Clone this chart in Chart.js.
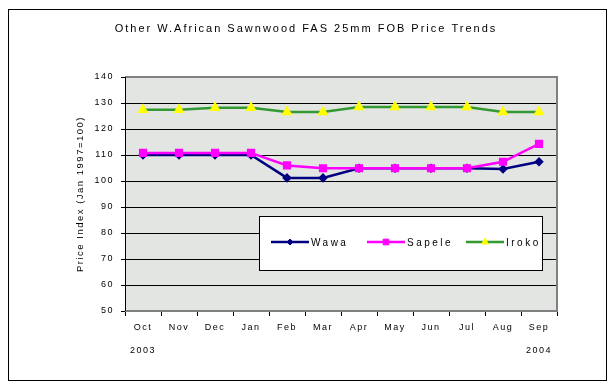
<!DOCTYPE html>
<html>
<head>
<meta charset="utf-8">
<script src="https://cdn.jsdelivr.net/npm/chart.js@4"></script>
<style>
  html, body { margin: 0; padding: 0; background: #fff; }
  #wrap { position: relative; width: 612px; height: 390px; }
  #frame { position: absolute; left: 8px; top: 9px; width: 597px; height: 370px; border: 1px solid #000; pointer-events: none; }
</style>
</head>
<body>
<div id="wrap">
  <canvas id="chart" width="612" height="390"></canvas>
  <div id="frame"></div>
</div>
<script>
// Chart data
const chartTitle = 'Other W.African Sawnwood FAS 25mm FOB Price Trends';
const months = ['Oct', 'Nov', 'Dec', 'Jan', 'Feb', 'Mar', 'Apr', 'May', 'Jun', 'Jul', 'Aug', 'Sep'];
const years = ['2003', '', '', '', '', '', '', '', '', '', '', '2004'];
const wawa = [110, 110, 110, 110, 101.2, 101.2, 104.9, 104.9, 104.9, 104.9, 104.6, 107.4];
const sapele = [110.8, 110.8, 110.8, 110.8, 106, 104.9, 104.9, 104.9, 104.9, 104.9, 107.4, 114.3];
const iroko = [127.4, 127.4, 128.2, 128.2, 126.5, 126.5, 128.5, 128.5, 128.5, 128.5, 126.5, 126.5];

// Plot background, border, title and legend box
const decorations = {
    id: 'decorations',
    beforeUpdate(chart) {
        chart.ctx.letterSpacing = '1.5px';
    },
    beforeDraw(chart) {
        const { ctx, chartArea: a } = chart;
        ctx.letterSpacing = '1.5px';
        ctx.save();
        ctx.fillStyle = '#e3e5e2';
        ctx.fillRect(a.left, a.top, a.right - a.left, a.bottom - a.top);
        ctx.restore();
    },
    beforeDatasetsDraw(chart) {
        const { ctx, chartArea: a } = chart;
        ctx.save();
        ctx.strokeStyle = '#808080';
        ctx.lineWidth = 2;
        ctx.beginPath();
        ctx.moveTo(a.left, a.top);
        ctx.lineTo(a.right, a.top);
        ctx.lineTo(a.right, a.bottom);
        ctx.lineTo(a.left, a.bottom);
        ctx.stroke();
        ctx.strokeStyle = '#000';
        ctx.lineWidth = 1;
        ctx.beginPath();
        ctx.moveTo(a.left + 0.5, a.top);
        ctx.lineTo(a.left + 0.5, a.bottom);
        ctx.stroke();
        ctx.restore();
    },
    afterDraw(chart) {
        const ctx = chart.ctx;
        ctx.save();
        ctx.letterSpacing = '2px';
        ctx.fillStyle = '#000';
        ctx.font = '11px "Liberation Sans", Arial, sans-serif';
        ctx.textAlign = 'center';
        ctx.textBaseline = 'middle';
        ctx.fillText(chartTitle, 306, 29);

        // legend
        ctx.fillStyle = '#fff';
        ctx.fillRect(259.5, 216.5, 283, 54);
        ctx.strokeStyle = '#000';
        ctx.lineWidth = 1;
        ctx.strokeRect(259.5, 216.5, 283, 54);
        const xs = [271, 367, 466];
        const y = 242;
        ctx.font = '10px "Liberation Sans", Arial, sans-serif';
        ctx.textAlign = 'left';
        ctx.letterSpacing = '2.5px';
        chart.data.datasets.forEach((ds, i) => {
            const x = xs[i];
            ctx.strokeStyle = ds.borderColor;
            ctx.lineWidth = 2.5;
            ctx.beginPath();
            ctx.moveTo(x, y);
            ctx.lineTo(x + 38, y);
            ctx.stroke();
            ctx.fillStyle = ds.pointBackgroundColor;
            ctx.strokeStyle = ds.pointBorderColor;
            ctx.lineWidth = 1;
            Chart.helpers.drawPoint(ctx, {
                pointStyle: ds.pointStyle,
                radius: ds.pointRadius,
                borderWidth: 1
            }, x + 19, y);
            ctx.fillStyle = '#000';
            ctx.fillText(ds.label, x + 40, y + 1);
        });
        ctx.restore();
    }
};

const ctx = document.getElementById('chart').getContext('2d');
new Chart(ctx, {
    type: 'line',
    data: {
        labels: months,
        datasets: [{
            label: 'Wawa',
            data: wawa,
            borderColor: '#000080',
            backgroundColor: '#000080',
            pointBackgroundColor: '#000080',
            pointBorderColor: '#000080',
            pointStyle: 'rectRot',
            pointRadius: 3,
            borderWidth: 2.5,
            order: 1
        }, {
            label: 'Sapele',
            data: sapele,
            borderColor: '#ff00ff',
            backgroundColor: '#ff00ff',
            pointBackgroundColor: '#ff00ff',
            pointBorderColor: '#ff00ff',
            pointStyle: 'rect',
            pointRadius: 4,
            borderWidth: 2.5,
            order: 0
        }, {
            label: 'Iroko',
            data: iroko,
            borderColor: '#339933',
            backgroundColor: '#ffff00',
            pointBackgroundColor: '#ffff00',
            pointBorderColor: '#ffff00',
            pointStyle: 'triangle',
            pointRadius: 4,
            borderWidth: 2.5,
            order: 2
        }]
    },
    options: {
        responsive: false,
        animation: false,
        layout: { padding: { left: 75, right: 55, top: 77, bottom: 19 } },
        plugins: {
            legend: { display: false },
            tooltip: { enabled: false }
        },
        elements: { line: { tension: 0 } },
        scales: {
            x: {
                offset: true,
                afterFit(scale) { scale.height = 60; },
                border: { display: false },
                grid: {
                    offset: true,
                    drawOnChartArea: false,
                    drawTicks: true,
                    tickLength: 5,
                    color: '#000'
                },
                ticks: {
                    color: '#000',
                    padding: 6,
                    maxRotation: 0,
                    autoSkip: false,
                    font: { family: '"Liberation Sans", Arial, sans-serif', size: 9, lineHeight: 1.25 },
                    callback: (v, i) => years[i] ? [months[i], '', years[i]] : [months[i]]
                }
            },
            y: {
                min: 50,
                max: 140,
                afterFit(scale) { scale.width = 50; },
                border: { display: false },
                grid: {
                    color: '#000',
                    lineWidth: 1,
                    tickLength: 4
                },
                ticks: {
                    stepSize: 10,
                    color: '#000',
                    padding: 7,
                    font: { family: '"Liberation Sans", Arial, sans-serif', size: 9 }
                },
                title: {
                    display: true,
                    text: 'Price Index (Jan 1997=100)',
                    color: '#000',
                    padding: 0,
                    font: { family: '"Liberation Sans", Arial, sans-serif', size: 9.5 }
                }
            }
        }
    },
    plugins: [decorations]
});
</script>
</body>
</html>
